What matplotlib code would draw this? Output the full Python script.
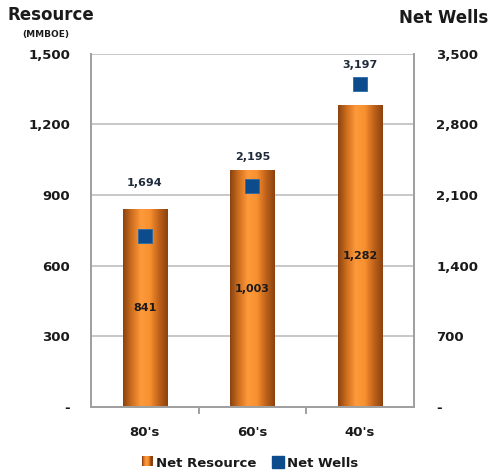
import matplotlib
matplotlib.use("Agg")
import matplotlib.pyplot as plt
import numpy as np
from matplotlib.colors import LinearSegmentedColormap
from matplotlib.legend_handler import HandlerBase
from matplotlib.lines import Line2D
from matplotlib.patches import Rectangle

categories = ["80's", "60's", "40's"]
net_resource = [841, 1003, 1282]
net_wells = [1694, 2195, 3197]

left_ticks = [0, 300, 600, 900, 1200, 1500]
left_labels = ["-", "300", "600", "900", "1,200", "1,500"]
right_ticks = [0, 700, 1400, 2100, 2800, 3500]
right_labels = ["-", "700", "1,400", "2,100", "2,800", "3,500"]

# where the well labels sit (in wells units), as placed in the original
well_label_y = [2220, 2480, 3390]

BAR_CMAP = LinearSegmentedColormap.from_list(
    "cyl", ["#8a4210", "#d0701f", "#ff9a3c", "#f7902f", "#c0621a", "#8a4210"],
    N=256)
WELL_COLOR = "#0d4c8c"
TEXT = "#1a1a1a"
GRID = "#c4c4c4"


class GradientHandler(HandlerBase):
    def create_artists(self, legend, orig, xd, yd, width, height, fontsize, trans):
        n = 12
        arts = []
        for i in range(n):
            r = Rectangle((xd + width * i / n, yd), width / n + 0.3, height,
                          facecolor=BAR_CMAP(i / (n - 1)), edgecolor="none",
                          transform=trans)
            arts.append(r)
        return arts


fig = plt.figure(figsize=(4.9, 4.74), dpi=100)
ax = fig.add_axes([0.1857, 0.1414, 0.659, 0.745])
ax2 = ax.twinx()

x = np.arange(len(categories))
w = 0.41
grad = np.linspace(0, 1, 256).reshape(1, -1)
for xi, v in zip(x, net_resource):
    ax.imshow(grad, extent=(xi - w / 2, xi + w / 2, 0, v), aspect="auto",
              cmap=BAR_CMAP, zorder=2, interpolation="bilinear")
    ax.text(xi, v / 2, f"{v:,}", ha="center", va="center", fontsize=8,
            fontweight="bold", color=TEXT, zorder=4)

ax.set_xlim(-0.5, 2.5)
ax.set_ylim(0, 1500)
ax.set_yticks(left_ticks)
ax.set_yticklabels(left_labels)
ax.yaxis.grid(True, color=GRID, linewidth=1.3, zorder=0)
ax.set_axisbelow(True)
ax.set_xticks(x)
ax.set_xticklabels(categories)
ax.set_xticks([0.5, 1.5], minor=True)
ax.tick_params(axis="x", which="major", length=0, pad=14)
ax.tick_params(axis="x", which="minor", length=5, color="#999999", width=1.3)
ax.tick_params(axis="y", length=0, pad=15)
for lbl in ax.get_xticklabels() + ax.get_yticklabels():
    lbl.set_fontweight("bold")
    lbl.set_fontsize(9.5)
    lbl.set_color(TEXT)

for s in ["top"]:
    ax.spines[s].set_visible(False)
    ax2.spines[s].set_visible(False)
for s in ["left", "right", "bottom"]:
    ax.spines[s].set_color("#a0a0a0")
    ax.spines[s].set_linewidth(1.3)
    ax2.spines[s].set_color("#a0a0a0")
    ax2.spines[s].set_linewidth(1.3)

ax2.set_ylim(0, 3500)
ax2.set_yticks(right_ticks)
ax2.set_yticklabels(right_labels)
ax2.tick_params(axis="y", length=0, pad=16)
for lbl in ax2.get_yticklabels():
    lbl.set_fontweight("bold")
    lbl.set_fontsize(9.5)
    lbl.set_color(TEXT)
    lbl.set_horizontalalignment("left")

ax2.plot(x, net_wells, linestyle="none", marker="s", markersize=9.5,
         color=WELL_COLOR, markeredgecolor="#2a6aa8", markeredgewidth=0.6,
         zorder=5)
for xi, v, ly in zip(x, net_wells, well_label_y):
    ax2.text(xi, ly, f"{v:,}", ha="center", va="center", fontsize=8,
             fontweight="bold", color="#1f2a3a")

fig.text(0.016, 0.968, "Resource", fontsize=12, fontweight="bold",
         color=TEXT, ha="left", va="center")
fig.text(0.045, 0.928, "(MMBOE)", fontsize=6.5, fontweight="bold",
         color=TEXT, ha="left", va="center")
fig.text(0.996, 0.962, "Net Wells", fontsize=12, fontweight="bold",
         color=TEXT, ha="right", va="center")

handles = [Rectangle((0, 0), 1, 1),
           Line2D([], [], linestyle="none", marker="s", markersize=8,
                  color=WELL_COLOR)]
fig.legend(handles, ["Net Resource", "Net Wells"], loc="center",
           bbox_to_anchor=(0.51, 0.023), ncol=2, frameon=False,
           prop={"size": 9.5, "weight": "bold"},
           handlelength=0.8, handleheight=0.8,
           handletextpad=0.3, columnspacing=1.2,
           handler_map={handles[0]: GradientHandler()})
for t in fig.legends[0].get_texts():
    t.set_color(TEXT)

fig.savefig("out.png", dpi=100)
